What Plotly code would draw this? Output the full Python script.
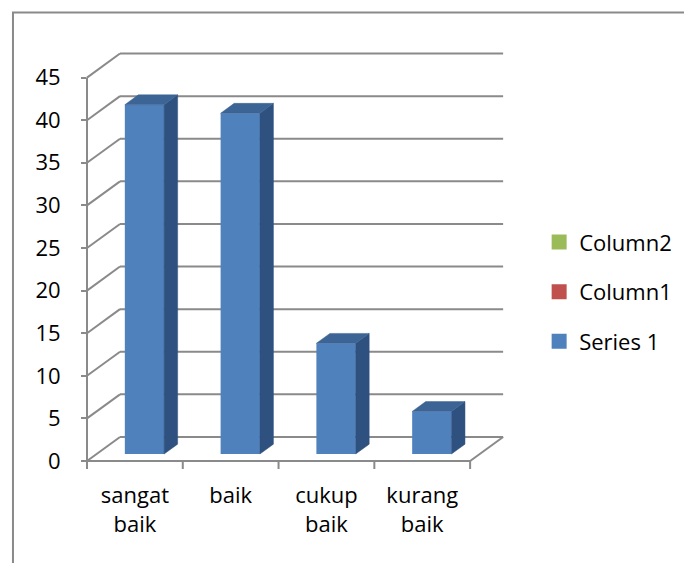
import plotly.graph_objects as go

# ---------------- data ----------------
categories = ["sangat baik", "baik", "cukup baik", "kurang baik"]
tick_text = ["sangat<br>baik", "baik", "cukup<br>baik", "kurang<br>baik"]
series1 = [41, 40, 13, 5]
y_ticks = [0, 5, 10, 15, 20, 25, 30, 35, 40, 45]
legend_names = ["Column2", "Column1", "Series 1"]
legend_colors = ["#9BBB59", "#C0504D", "#4F81BD"]

# ---------------- geometry (oblique 3-D look) ----------------
PX = 95.75            # px per category unit
PY = 383 / 45         # px per value unit
DX = 33 / PX          # depth offset in x units
DY = 24 / PY          # depth offset in y units
F0, F1 = 0.29, 0.70   # bar depth span (fraction of floor depth)
BW = 0.41             # bar width (category units)
XMAX = len(categories) + DX + 0.03
YMAX = y_ticks[-1] + DY + 0.3
L, B = 87, 102
W = XMAX * PX
H = YMAX * PY
R = 684 - L - W
T = 563 - B - H

GRID = "#8a8a8a"
FONT = "Open Sans"
FS = 22


def px(x):
    return x / XMAX


def py(y):
    return y / YMAX


def line(x0, y0, x1, y1, color=GRID, width=2):
    return dict(type="line", xref="paper", yref="paper", layer="below",
                x0=px(x0), y0=py(y0), x1=px(x1), y1=py(y1),
                line=dict(color=color, width=width))


n = len(categories)
shapes = []
# back wall gridlines + left wall diagonals
for v in y_ticks:
    shapes.append(line(DX, v + DY, n + DX, v + DY))
    shapes.append(line(0, v, DX, v + DY))
# floor front / right edge, front value axis
shapes.append(line(0, 0, n, 0))
shapes.append(line(n, 0, n + DX, DY))
shapes.append(line(0, 0, 0, y_ticks[-1]))
# category tick marks (8 px down)
for i in range(n + 1):
    shapes.append(dict(type="line", xref="paper", yref="paper", layer="below",
                       x0=px(i), x1=px(i), y0=0, y1=-8 / H,
                       line=dict(color=GRID, width=2)))
# chart border
shapes.append(dict(type="rect", xref="paper", yref="paper", layer="below",
                   x0=(13 - L) / W, x1=(700 - L) / W,
                   y0=(461 - 600) / H, y1=(461 - 13) / H,
                   line=dict(color="#8a8a8a", width=2), fillcolor="rgba(0,0,0,0)"))

fig = go.Figure()

# legend entries (empty series; the stroke enlarges the legend swatch)
for name, color, grp in zip(legend_names, legend_colors, ["c2", "c1", "s1"]):
    fig.add_trace(go.Bar(x=[None], y=[None], name=name, legendgroup=grp,
                         marker=dict(color=color, line=dict(color=color, width=3))))

# bar front faces
xc = [i + 0.5 + F0 * DX for i in range(n)]
fig.add_trace(go.Bar(
    x=xc, y=series1, base=[F0 * DY] * n, width=BW,
    name=legend_names[2], marker=dict(color=legend_colors[2], line=dict(width=0)),
    legendgroup="s1", showlegend=False, hoverinfo="skip"))

# side and top faces
d = F1 - F0
sx, sy, tx, ty = [], [], [], []
for i, v in enumerate(series1):
    xl = xc[i] - BW / 2
    xr = xc[i] + BW / 2
    b0 = F0 * DY
    top = v + F0 * DY
    sx += [xr, xr + d * DX, xr + d * DX, xr, xr, None]
    sy += [b0, b0 + d * DY, top + d * DY, top, b0, None]
    tx += [xl, xr, xr + d * DX, xl + d * DX, xl, None]
    ty += [top, top, top + d * DY, top + d * DY, top, None]

fig.add_trace(go.Scatter(x=sx, y=sy, mode="lines", fill="toself",
                         fillcolor="#2F5180", line=dict(color="#2F5180", width=0.5),
                         showlegend=False, hoverinfo="skip"))
fig.add_trace(go.Scatter(x=tx, y=ty, mode="lines", fill="toself",
                         fillcolor="#3C6495", line=dict(color="#3C6495", width=0.5),
                         showlegend=False, hoverinfo="skip"))

fig.update_layout(
    width=684, height=563,
    margin=dict(l=L, r=R, t=T, b=B, pad=0, autoexpand=False),
    paper_bgcolor="white", plot_bgcolor="rgba(0,0,0,0)",
    font=dict(family=FONT, size=FS, color="black"),
    showlegend=True,
    shapes=shapes,
    barmode="overlay",
    legend=dict(x=(539 - L) / W, xanchor="left", y=(461 - 292) / H, yanchor="middle",
                traceorder="grouped", tracegroupgap=18,
                font=dict(family=FONT, size=FS, color="black"),
                bgcolor="rgba(0,0,0,0)"),
    xaxis=dict(range=[0, XMAX], showgrid=False, zeroline=False, showline=False,
               tickmode="array", tickvals=[i + 0.5 for i in range(n)], ticktext=tick_text,
               ticks="", ticklabelstandoff=19, fixedrange=True, automargin=False),
    yaxis=dict(range=[0, YMAX], showgrid=False, zeroline=False, showline=False,
               tickmode="array", tickvals=y_ticks, ticktext=[str(v) for v in y_ticks],
               ticks="outside", ticklen=5, tickwidth=2, tickcolor=GRID,
               ticklabelstandoff=16, fixedrange=True, automargin=False),
)

fig.write_html("out.html")
